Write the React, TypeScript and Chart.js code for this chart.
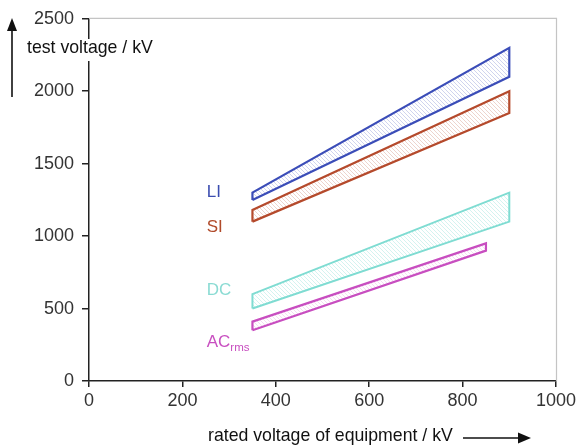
import React, { useEffect, useRef } from "react";
import { Chart, registerables } from "chart.js";

Chart.register(...registerables);

// rated voltage of equipment (kV) at band ends
const ratedRange = [350, 900];
const ratedRangeAC = [350, 850];
// test voltage bands (kV): lower and upper limits at each end
const liLower = [1250, 2100];
const liUpper = [1300, 2300];
const siLower = [1100, 1850];
const siUpper = [1180, 2000];
const dcLower = [500, 1100];
const dcUpper = [600, 1300];
const acLower = [350, 900];
const acUpper = [410, 950];

const xTicks = [0, 200, 400, 600, 800, 1000];
const yTicks = [0, 500, 1000, 1500, 2000, 2500];

const bandLabels = [
  { text: "LI", sub: "", x: 252, y: 1300, color: "#3b4db0" },
  { text: "SI", sub: "", x: 252, y: 1060, color: "#b04a2a" },
  { text: "DC", sub: "", x: 252, y: 623, color: "#8adbd3" },
  { text: "AC", sub: "rms", x: 252, y: 267, color: "#c84fc0" },
];

const FONT = '"Liberation Sans", Arial, Helvetica, sans-serif';

function polygon(xs: number[], lo: number[], hi: number[]) {
  return [
    { x: xs[0], y: lo[0] },
    { x: xs[1], y: lo[1] },
    { x: xs[1], y: hi[1] },
    { x: xs[0], y: hi[0] },
    { x: xs[0], y: lo[0] },
  ];
}

function hatch(color: string) {
  const c = document.createElement("canvas");
  c.width = 4;
  c.height = 4;
  const g = c.getContext("2d")!;
  g.strokeStyle = color;
  g.lineWidth = 0.8;
  g.beginPath();
  g.moveTo(0, 0);
  g.lineTo(4, 4);
  g.moveTo(-2, 2);
  g.lineTo(2, 6);
  g.moveTo(2, -2);
  g.lineTo(6, 2);
  g.stroke();
  return g.createPattern(c, "repeat")!;
}

const decorPlugin = {
  id: "decor",
  afterDraw(chart: any) {
    const { ctx, chartArea, scales } = chart;
    const xs = scales.x;
    const ys = scales.y;
    ctx.save();
    // top and right frame
    ctx.strokeStyle = "#c4c4c4";
    ctx.lineWidth = 1.2;
    ctx.beginPath();
    ctx.moveTo(chartArea.left, chartArea.top - 0.5);
    ctx.lineTo(chartArea.right + 0.5, chartArea.top - 0.5);
    ctx.lineTo(chartArea.right + 0.5, chartArea.bottom);
    ctx.stroke();

    // y title with white background
    ctx.font = `17.7px ${FONT}`;
    ctx.textBaseline = "middle";
    ctx.textAlign = "left";
    const yt = "test voltage / kV";
    const w = ctx.measureText(yt).width;
    ctx.fillStyle = "#ffffff";
    ctx.fillRect(26, 39, w + 4, 22);
    ctx.fillStyle = "#111111";
    ctx.fillText(yt, 27, 48);

    // y arrow
    ctx.strokeStyle = "#111";
    ctx.fillStyle = "#111";
    ctx.lineWidth = 1.6;
    ctx.beginPath();
    ctx.moveTo(12, 97);
    ctx.lineTo(12, 28);
    ctx.stroke();
    ctx.beginPath();
    ctx.moveTo(12, 18);
    ctx.lineTo(7, 31);
    ctx.lineTo(17, 31);
    ctx.closePath();
    ctx.fill();

    // x title
    ctx.textAlign = "left";
    ctx.fillText("rated voltage of equipment / kV", 208, 436);
    // x arrow
    ctx.beginPath();
    ctx.moveTo(463, 438);
    ctx.lineTo(520, 438);
    ctx.stroke();
    ctx.beginPath();
    ctx.moveTo(531, 438);
    ctx.lineTo(518, 432.5);
    ctx.lineTo(518, 443.5);
    ctx.closePath();
    ctx.fill();

    // band labels
    for (const l of bandLabels) {
      const px = xs.getPixelForValue(l.x);
      const py = ys.getPixelForValue(l.y);
      ctx.fillStyle = l.color;
      ctx.font = `17px ${FONT}`;
      ctx.textAlign = "left";
      ctx.fillText(l.text, px, py);
      if (l.sub) {
        const tw = ctx.measureText(l.text).width;
        ctx.font = `11.5px ${FONT}`;
        ctx.fillText(l.sub, px + tw, py + 6);
      }
    }
    ctx.restore();
  },
};

export default function App() {
  const ref = useRef<HTMLCanvasElement>(null);
  useEffect(() => {
    document.body.style.margin = "0";
    const mk = (label: string, xs: number[], lo: number[], hi: number[], color: string, fillColor: string, bw: number) => ({
      label,
      data: polygon(xs, lo, hi),
      showLine: true,
      borderColor: color,
      borderWidth: bw,
      backgroundColor: hatch(fillColor),
      fill: "shape",
      pointRadius: 0,
      tension: 0,
    });
    const chart = new Chart(ref.current!, {
      type: "scatter",
      data: {
        datasets: [
          mk("LI", ratedRange, liLower, liUpper, "#3b4db8", "rgba(59,77,184,0.3)", 2.2),
          mk("SI", ratedRange, siLower, siUpper, "#b54a2c", "rgba(181,74,44,0.3)", 2.2),
          mk("DC", ratedRange, dcLower, dcUpper, "#7fdcd2", "rgba(100,210,200,0.35)", 2),
          mk("AC", ratedRangeAC, acLower, acUpper, "#c84ec0", "rgba(200,78,192,0.25)", 2.2),
        ] as any,
      },
      options: {
        responsive: false,
        animation: false,
        layout: { padding: { top: 17, right: 28, left: 0, bottom: 0 } },
        plugins: { legend: { display: false }, tooltip: { enabled: false } },
        scales: {
          x: {
            type: "linear",
            min: 0,
            max: 1000,
            afterBuildTicks: (s: any) => {
              s.ticks = xTicks.map((v) => ({ value: v }));
            },
            afterFit: (s: any) => {
              s.height = 65;
            },
            border: { color: "#222", width: 1.5 },
            grid: { drawOnChartArea: false, color: "#222", tickLength: 6, lineWidth: 1.5 },
            ticks: {
              color: "#333",
              font: { family: FONT, size: 18 },
              padding: 3,
              maxRotation: 0,
              callback: (v: any) => String(v),
            },
          },
          y: {
            type: "linear",
            min: 0,
            max: 2500,
            afterBuildTicks: (s: any) => {
              s.ticks = yTicks.map((v) => ({ value: v }));
            },
            afterFit: (s: any) => {
              s.width = 89;
            },
            border: { color: "#222", width: 1.5 },
            grid: { drawOnChartArea: false, color: "#222", tickLength: 7, lineWidth: 1.5 },
            ticks: {
              color: "#333",
              font: { family: FONT, size: 18 },
              padding: 8,
              callback: (v: any) => String(v),
            },
          },
        },
      },
      plugins: [decorPlugin],
    } as any);
    return () => chart.destroy();
  }, []);
  return <canvas ref={ref} width={584} height={446} />;
}
